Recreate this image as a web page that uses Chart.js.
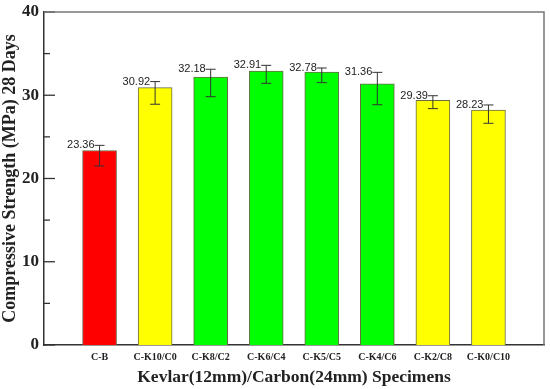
<!DOCTYPE html>
<html>
<head>
<meta charset="utf-8">
<script src="https://cdn.jsdelivr.net/npm/chart.js@4.4.0/dist/chart.umd.min.js"></script>
<style>
  html,body{margin:0;padding:0;background:#fff;}
  #wrap{width:550px;height:389px;}
</style>
</head>
<body>
<div id="wrap"><canvas id="c"></canvas></div>
<script>
// datos
const specimens = ['C-B','C-K10/C0','C-K8/C2','C-K6/C4','C-K5/C5','C-K4/C6','C-K2/C8','C-K0/C10'];
const strength  = [23.36, 30.92, 32.18, 32.91, 32.78, 31.36, 29.39, 28.23];
const errUp     = [0.62, 0.72, 0.94, 0.68, 0.49, 1.39, 0.55, 0.60];
const errDown   = [1.86, 2.00, 2.36, 1.48, 1.27, 2.50, 1.00, 1.60];
const barColors = ['#ff0000','#ffff00','#00ff00','#00ff00','#00ff00','#00ff00','#ffff00','#ffff00'];
const yTicks    = [0, 10, 20, 30, 40];

// huecos a cada lado como en el original
const labels = ['', ...specimens, ''];
const padded = arr => [null, ...arr, null];

const serif = '"Liberation Serif","Times New Roman",serif';

const errorBars = {
  id:'errorBars',
  afterDatasetsDraw(chart){
    const {ctx} = chart;
    const meta = chart.getDatasetMeta(0);
    const y = chart.scales.y;
    ctx.save();
    ctx.strokeStyle = '#333';
    ctx.lineWidth = 1;
    meta.data.forEach((bar, i) => {
      const k = i - 1;
      if(k < 0 || k >= strength.length) return;
      const x = bar.x;
      const top = y.getPixelForValue(strength[k] + errUp[k]);
      const bot = y.getPixelForValue(strength[k] - errDown[k]);
      ctx.beginPath();
      ctx.moveTo(x, top); ctx.lineTo(x, bot);
      ctx.moveTo(x-5, top); ctx.lineTo(x+5, top);
      ctx.moveTo(x-5, bot); ctx.lineTo(x+5, bot);
      ctx.stroke();
      // etiqueta de valor a la izquierda del cap superior
      ctx.fillStyle = '#222';
      ctx.font = '11px "Liberation Sans", Arial, sans-serif';
      ctx.textAlign = 'right';
      ctx.textBaseline = 'middle';
      ctx.fillText(strength[k].toFixed(2), x - 5, top);
    });
    ctx.restore();
  }
};

const frame = {
  id:'frame',
  afterDraw(chart){
    const {ctx, chartArea:a} = chart;
    const y = chart.scales.y;
    ctx.save();
    // ticks hacia dentro
    ctx.strokeStyle = '#333';
    ctx.lineWidth = 1.3;
    for(let v = 0; v <= 40; v += 5){
      const py = y.getPixelForValue(v);
      const len = v % 10 === 0 ? 11 : 6;
      ctx.beginPath(); ctx.moveTo(a.left, py); ctx.lineTo(a.left + len, py); ctx.stroke();
    }
    // borde superior y derecho
    ctx.strokeStyle = '#777';
    ctx.lineWidth = 1.5;
    ctx.beginPath();
    ctx.moveTo(a.left, a.top); ctx.lineTo(a.right, a.top); ctx.lineTo(a.right, a.bottom);
    ctx.stroke();
    ctx.restore();
  }
};

new Chart(document.getElementById('c'), {
  type:'bar',
  data:{labels, datasets:[{
    data: padded(strength),
    backgroundColor: padded(barColors),
    borderColor:'#6b6b4a',
    borderWidth:1,
    barThickness:34
  }]},
  options:{
    responsive:true,
    maintainAspectRatio:false,
    animation:false,
    layout:{padding:{top:9, right:4, left:0, bottom:0}},
    plugins:{legend:{display:false}, tooltip:{enabled:false}},
    scales:{
      x:{
        offset:false,
        grid:{display:false, drawTicks:false},
        border:{display:true, color:'#333', width:1.5},
        ticks:{color:'#222', font:{family:serif, size:10, weight:'bold'}, padding:6, maxRotation:0, autoSkip:false},
        title:{display:true, text:'Kevlar(12mm)/Carbon(24mm) Specimens', color:'#222',
               font:{family:serif, size:17.5, weight:'bold'}, padding:{top:2, bottom:1}},
        afterFit(s){ s.height = 44; }
      },
      y:{
        min:0, max:40,
        grid:{display:false, drawTicks:false},
        border:{display:true, color:'#333', width:1.5},
        ticks:{stepSize:5, color:'#222', padding:5,
               font:{family:serif, size:17, weight:'bold', lineHeight:0.82},
               callback:v => yTicks.includes(v) ? v : ''},
        title:{display:true, text:'Compressive Strength (MPa) 28 Days', color:'#222',
               font:{family:serif, size:18, weight:'bold'}, padding:{top:0, bottom:0}},
        afterFit(s){ s.width = 44; }
      }
    }
  },
  plugins:[errorBars, frame]
});
</script>
</body>
</html>
